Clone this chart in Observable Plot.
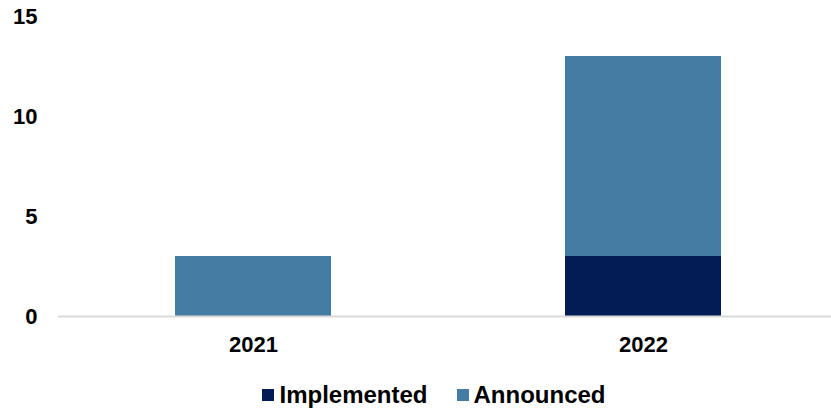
<!DOCTYPE html>
<html>
<head>
<meta charset="utf-8">
<script src="https://cdn.jsdelivr.net/npm/d3@7"></script>
<script src="https://cdn.jsdelivr.net/npm/@observablehq/plot@0.6"></script>
<style>
  html, body { margin: 0; padding: 0; background: #fff; }
  body { width: 831px; height: 408px; overflow: hidden; font-family: "Liberation Sans", Arial, sans-serif; }
  #chart svg { display: block; }
  #legend { display: flex; justify-content: center; align-items: center; gap: 29px; margin-left: 37px; margin-top: 17px; font-weight: bold; font-size: 24px; line-height: 24px; color: #000; height: 24px; }
  #legend .item { display: flex; align-items: center; }
  #legend .sw { width: 12px; height: 12px; margin-right: 5px; }
</style>
</head>
<body>
<div id="chart"></div>
<div id="legend"></div>
<script>
const years = ["2021", "2022"];
const series = ["Implemented", "Announced"];
const implemented = [0, 3];
const announced = [3, 10];
const colors = ["#041c55", "#447ca3"];
const yTicks = [0, 5, 10, 15];

const rows = [];
years.forEach((y, i) => {
  rows.push({year: y, series: series[0], value: implemented[i]});
  rows.push({year: y, series: series[1], value: announced[i]});
});

const chart = Plot.plot({
  width: 831,
  height: 366,
  marginLeft: 58,
  marginRight: 0,
  marginTop: 16,
  marginBottom: 50,
  style: {fontFamily: "'Liberation Sans', Arial, sans-serif", fontSize: "22px", fontWeight: "bold", color: "#000", background: "#fff"},
  x: {domain: years, range: [58, 838], paddingInner: 0.6, paddingOuter: 0.3, label: null, tickSize: 0, tickPadding: 20},
  y: {domain: [0, 15], ticks: yTicks, label: null, tickSize: 0, tickPadding: 21},
  color: {domain: series, range: colors},
  marks: [
    Plot.barY(rows, Plot.stackY({x: "year", y: "value", fill: "series", order: series})),
    Plot.ruleY([0], {stroke: "#d9d9d9", strokeWidth: 2})
  ]
});
document.getElementById("chart").appendChild(chart);

const legend = document.getElementById("legend");
series.forEach((s, i) => {
  const item = document.createElement("div");
  item.className = "item";
  const sw = document.createElement("span");
  sw.className = "sw";
  sw.style.background = colors[i];
  const t = document.createElement("span");
  t.textContent = s;
  item.appendChild(sw);
  item.appendChild(t);
  legend.appendChild(item);
});
</script>
</body>
</html>
